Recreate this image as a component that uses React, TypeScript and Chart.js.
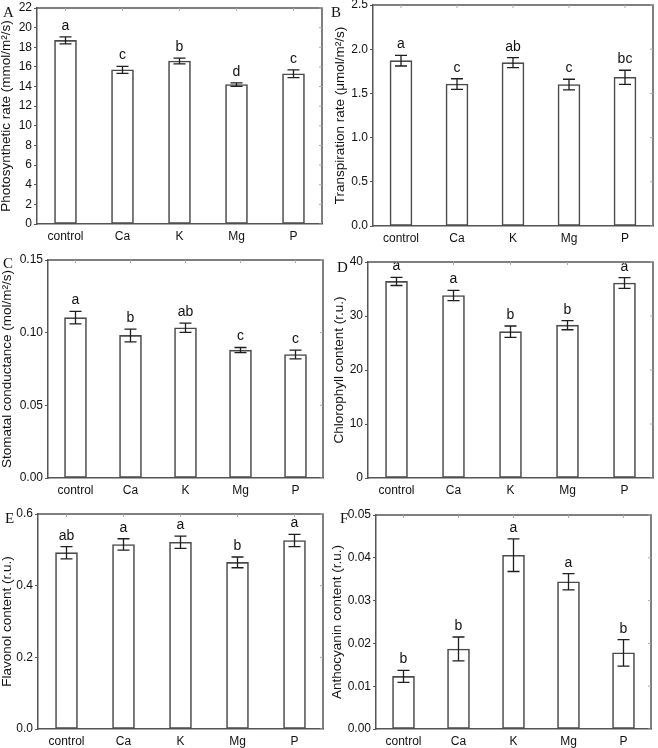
import React, { useEffect, useRef } from "react";
import { Chart, registerables } from "chart.js";
Chart.register(...registerables);

// ---------- DATA ----------
const categories = ["control", "Ca", "K", "Mg", "P"];

const photoValues = [18.7, 15.7, 16.6, 14.2, 15.3];
const photoErrors = [0.35, 0.35, 0.3, 0.18, 0.4];
const photoLetters = ["a", "c", "b", "d", "c"];

const transValues = [1.87, 1.606, 1.848, 1.6, 1.682];
const transErrors = [0.06, 0.06, 0.057, 0.06, 0.08];
const transLetters = ["a", "c", "ab", "c", "bc"];

const stomValues = [0.1103, 0.0981, 0.1034, 0.088, 0.085];
const stomErrors = [0.0043, 0.0044, 0.0032, 0.0018, 0.003];
const stomLetters = ["a", "b", "ab", "c", "c"];

const chlValues = [36.4, 33.8, 27.1, 28.3, 36.1];
const chlErrors = [0.75, 0.95, 1.05, 0.85, 1.0];
const chlLetters = ["a", "a", "b", "b", "a"];

const flavValues = [0.492, 0.515, 0.521, 0.465, 0.526];
const flavErrors = [0.017, 0.016, 0.017, 0.015, 0.017];
const flavLetters = ["ab", "a", "a", "b", "a"];

const anthValues = [0.0123, 0.0187, 0.0406, 0.0344, 0.0178];
const anthErrors = [0.0014, 0.0028, 0.0038, 0.0019, 0.0031];
const anthLetters = ["b", "b", "a", "a", "b"];

// y-axis ranges: [max, step, decimals]
const photoAxis = [22, 2, 0];
const transAxis = [2.5, 0.5, 1];
const stomAxis = [0.15, 0.05, 2];
const chlAxis = [40, 10, 0];
const flavAxis = [0.6, 0.2, 1];
const anthAxis = [0.05, 0.01, 2];

const titles = [
  "Photosynthetic rate (mmol/m\u00B2/s)",
  "Transpiration rate (\u03BCmol/m\u00B2/s)",
  "Stomatal conductance (mol/m\u00B2/s)",
  "Chlorophyll content (r.u.)",
  "Flavonol content (r.u.)",
  "Anthocyanin content (r.u.)",
];
const panelLetters = ["A", "B", "C", "D", "E", "F"];

// ---------- LAYOUT ----------
const SANS = '"Liberation Sans", Arial, Helvetica, sans-serif';
const SERIF = '"Liberation Serif", "Times New Roman", serif';

type PanelDef = {
  values: number[];
  errors: number[];
  letters: string[];
  axis: number[];
  title: string;
  letter: string;
  x: number;
  y: number;
  w: number;
  h: number;
  yWidth: number;
  padRight: number;
  padTop: number;
  xHeight: number;
  titlePad: number;
  lx: number;
  ly: number;
};

const panels: PanelDef[] = [
  { values: photoValues, errors: photoErrors, letters: photoLetters, axis: photoAxis, title: titles[0], letter: panelLetters[0],
    x: 0, y: 0, w: 329, h: 250, yWidth: 37, padRight: 7, padTop: 8, xHeight: 26, titlePad: 0, lx: 3, ly: 17 },
  { values: transValues, errors: transErrors, letters: transLetters, axis: transAxis, title: titles[1], letter: panelLetters[1],
    x: 329, y: 0, w: 329, h: 250, yWidth: 44, padRight: 5, padTop: 5, xHeight: 24, titlePad: 5, lx: 2, ly: 17 },
  { values: stomValues, errors: stomErrors, letters: stomLetters, axis: stomAxis, title: titles[2], letter: panelLetters[2],
    x: 0, y: 250, w: 329, h: 250, yWidth: 48, padRight: 6, padTop: 10, xHeight: 22, titlePad: 1, lx: 3, ly: 18 },
  { values: chlValues, errors: chlErrors, letters: chlLetters, axis: chlAxis, title: titles[3], letter: panelLetters[3],
    x: 329, y: 250, w: 329, h: 250, yWidth: 39, padRight: 5, padTop: 12, xHeight: 22, titlePad: 4, lx: 8, ly: 22 },
  { values: flavValues, errors: flavErrors, letters: flavLetters, axis: flavAxis, title: titles[4], letter: panelLetters[4],
    x: 0, y: 500, w: 329, h: 248, yWidth: 38, padRight: 6, padTop: 14, xHeight: 19, titlePad: 1, lx: 5, ly: 23 },
  { values: anthValues, errors: anthErrors, letters: anthLetters, axis: anthAxis, title: titles[5], letter: panelLetters[5],
    x: 329, y: 500, w: 329, h: 248, yWidth: 47, padRight: 7, padTop: 15, xHeight: 19, titlePad: 2, lx: 11, ly: 23 },
];

function makePlugin(p: PanelDef) {
  return {
    id: "extras" + p.letter,
    afterDatasetsDraw(chart: any) {
      const ctx = chart.ctx;
      const xs = chart.scales.x;
      const ys = chart.scales.y;
      ctx.save();
      ctx.strokeStyle = "#1e1e1e";
      ctx.lineWidth = 1.3;
      p.values.forEach((v, i) => {
        const x = xs.getPixelForValue(i);
        const yt = ys.getPixelForValue(v + p.errors[i]);
        const yb = ys.getPixelForValue(v - p.errors[i]);
        ctx.beginPath();
        ctx.moveTo(x, yt);
        ctx.lineTo(x, yb);
        ctx.moveTo(x - 6, yt);
        ctx.lineTo(x + 6, yt);
        ctx.moveTo(x - 6, yb);
        ctx.lineTo(x + 6, yb);
        ctx.stroke();
        ctx.fillStyle = "#111";
        ctx.font = `14px ${SANS}`;
        ctx.textAlign = "center";
        ctx.textBaseline = "alphabetic";
        ctx.fillText(p.letters[i], x, yt - 7);
      });
      ctx.restore();
    },
    afterDraw(chart: any) {
      const ctx = chart.ctx;
      const a = chart.chartArea;
      const xs = chart.scales.x;
      const ys = chart.scales.y;
      ctx.save();
      ctx.strokeStyle = "#555";
      ctx.lineWidth = 1.5;
      ctx.beginPath();
      ctx.moveTo(a.left, a.top);
      ctx.lineTo(a.right, a.top);
      ctx.lineTo(a.right, a.bottom);
      ctx.stroke();
      ctx.strokeStyle = "#aaa";
      ctx.lineWidth = 1;
      ctx.beginPath();
      ys.ticks.forEach((_t: any, i: number) => {
        const y = ys.getPixelForTick(i);
        ctx.moveTo(a.right, y);
        ctx.lineTo(a.right - 3, y);
      });
      categories.forEach((_c, i) => {
        const x = xs.getPixelForValue(i);
        ctx.moveTo(x, a.top);
        ctx.lineTo(x, a.top + 3);
      });
      ctx.stroke();
      ctx.fillStyle = "#111";
      ctx.font = `15px ${SERIF}`;
      ctx.textAlign = "left";
      ctx.textBaseline = "alphabetic";
      ctx.fillText(p.letter, p.lx, p.ly);
      ctx.restore();
    },
  };
}

function Panel({ p }: { p: PanelDef }) {
  const ref = useRef<HTMLCanvasElement>(null);
  useEffect(() => {
    const [max, step, dec] = p.axis;
    const chart = new Chart(ref.current as HTMLCanvasElement, {
      type: "bar",
      data: {
        labels: categories,
        datasets: [
          {
            data: p.values,
            backgroundColor: "#ffffff",
            borderColor: "#4a4a4a",
            borderWidth: 1.6,
            borderSkipped: false,
            barThickness: 22,
          },
        ],
      },
      options: {
        responsive: false,
        animation: false,
        layout: { padding: { left: 0, right: p.padRight, top: p.padTop, bottom: 0 } },
        plugins: { legend: { display: false }, tooltip: { enabled: false } },
        scales: {
          x: {
            type: "category",
            offset: true,
            grid: { drawOnChartArea: false, drawTicks: false, color: "#555" },
            border: { display: true, color: "#555", width: 1.5 },
            ticks: {
              padding: 5,
              color: "#111",
              font: { family: SANS, size: 12 },
              maxRotation: 0,
              autoSkip: false,
            },
            afterFit: (s: any) => {
              s.height = p.xHeight;
              s.paddingLeft = 0;
              s.paddingRight = 0;
            },
          },
          y: {
            min: 0,
            max: max,
            ticks: {
              stepSize: step,
              padding: 2,
              color: "#111",
              font: { family: SANS, size: 12 },
              callback: (v: any) => Number(v).toFixed(dec),
            },
            grid: { drawOnChartArea: false, drawTicks: true, tickLength: 3, color: "#555" },
            border: { display: true, color: "#555", width: 1.5 },
            title: {
              display: true,
              text: p.title,
              color: "#111",
              font: { family: SANS, size: 13.5, lineHeight: 1 },
              padding: { top: p.titlePad, bottom: 0 },
            },
            afterFit: (s: any) => {
              s.width = p.yWidth;
              s.paddingTop = 0;
              s.paddingBottom = 0;
            },
          },
        },
      } as any,
      plugins: [makePlugin(p)],
    });
    return () => chart.destroy();
  }, []);
  return (
    <canvas
      ref={ref}
      width={p.w}
      height={p.h}
      style={{ position: "absolute", left: p.x, top: p.y, width: p.w, height: p.h }}
    />
  );
}

export default function App() {
  return (
    <div style={{ position: "absolute", left: 0, top: 0, width: 658, height: 748, background: "#fff" }}>
      {panels.map((p) => (
        <Panel key={p.letter} p={p} />
      ))}
    </div>
  );
}
